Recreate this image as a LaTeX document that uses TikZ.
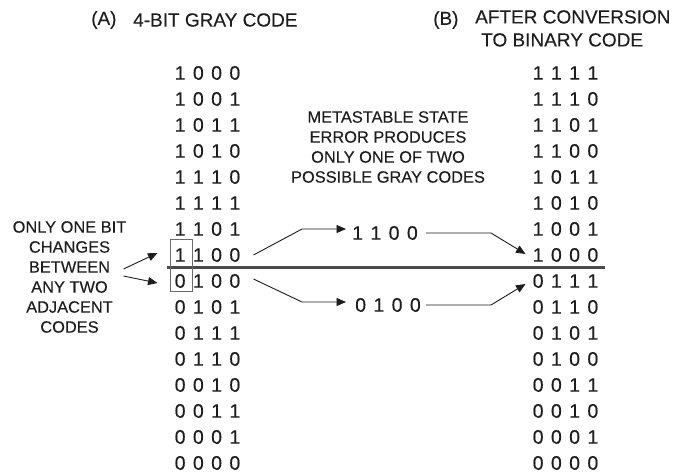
\documentclass[tikz,border=0pt]{standalone}
\usepackage{fontspec}
\setmainfont[FakeBold=0.15]{Liberation Sans}
\usepackage{xcolor}
\usepackage{tikz}
\usetikzlibrary{arrows.meta,calc,positioning}
\definecolor{gcInk}{HTML}{1E1C1D}
\definecolor{gcRule}{HTML}{4A4A4A}
\definecolor{gcFrame}{HTML}{6B6B6B}
\newcommand{\gcword}[1]{\begingroup\spaceskip=7.4pt\relax #1\endgroup}
\tikzset{
  gc diagram/.style={x=1pt, y=-1pt, text=gcInk, line join=miter},
  gc title/.style={font=\fontsize{19}{23}\selectfont, inner sep=0pt},
  gc bits/.style={font=\fontsize{19.5}{22}\selectfont, inner sep=0pt},
  gc note/.style={font=\fontsize{16.4}{20}\selectfont, align=center,
    inner sep=0pt},
  gc arrow/.style={-{Triangle[length=9.5pt,width=8pt]}, draw=gcInk,
    line width=0.9pt},
  gc rule/.style={draw=gcRule, line width=3pt},
  gc frame/.style={draw=gcFrame, line width=1pt}
}

\begin{document}
\begin{tikzpicture}[gc diagram]
\useasboundingbox (0,0) rectangle (684,474);
% headings
\node[gc title, anchor=west] (tagA) at (91,20) {(A)};
\node[gc title, anchor=west] (headA) at (133,20) {4-BIT GRAY CODE};
\node[gc title, anchor=west] (tagB) at (433,20) {(B)};
\node[gc title, anchor=north west, align=left] (headB) at (475,10)
  {AFTER CONVERSION\\\hspace{6pt}TO BINARY CODE};
% the two columns
\foreach \a/\b [count=\i] in {1 0 0 0/1 1 1 1, 1 0 0 1/1 1 1 0,
    1 0 1 1/1 1 0 1, 1 0 1 0/1 1 0 0, 1 1 1 0/1 0 1 1, 1 1 1 1/1 0 1 0,
    1 1 0 1/1 0 0 1, 1 1 0 0/1 0 0 0, 0 1 0 0/0 1 1 1, 0 1 0 1/0 1 1 0,
    0 1 1 1/0 1 0 1, 0 1 1 0/0 1 0 0, 0 0 1 0/0 0 1 1, 0 0 1 1/0 0 1 0,
    0 0 0 1/0 0 0 1, 0 0 0 0/0 0 0 0}{
  \node[gc bits] (ga\i) at (207.5,{47+26*\i}) {\gcword{\a}};
  \node[gc bits] (gb\i) at (565.5,{47+26*\i}) {\gcword{\b}};
}
\draw[gc rule] (167,267) -- (605,267);
\draw[gc frame] (170,239) rectangle (192,291);
% notes
\node[gc note] (meta) at (388,147)
  {METASTABLE STATE\\ERROR PRODUCES\\ONLY ONE OF TWO\\POSSIBLE GRAY CODES};
\node[gc note] (note) at (69.5,277)
  {ONLY ONE BIT\\CHANGES\\BETWEEN\\ANY TWO\\ADJACENT\\CODES};
\node[gc bits] (midA) at (385,233) {\gcword{1 1 0 0}};
\node[gc bits] (midB) at (388,305) {\gcword{0 1 0 0}};
% arrows
\draw[gc arrow] ($(note.east)+(-3,-8)$) -- ($(ga8.west)+(-17,-2)$);
\draw[gc arrow] ($(note.east)+(-3,-1)$) -- ($(ga9.west)+(-17,2)$);
\draw[gc arrow] ($(ga8.east)+(13,0)$) -- ($(midA.west)+(-50,-4)$)
  -- ($(midA.west)+(-6,-4)$);
\draw[gc arrow] ($(ga9.east)+(13,-2)$) -- ($(midB.west)+(-53,-3)$)
  -- ($(midB.west)+(-9,-3)$);
\draw[gc arrow] ($(midA.east)+(8,0)$) -- ($(midA.east)+(73,0)$)
  -- ($(gb8.west)+(-7,-1)$);
\draw[gc arrow] ($(midB.east)+(5,0)$) -- ($(midB.east)+(70,0)$)
  -- ($(gb9.west)+(-7,3)$);
\end{tikzpicture}
\end{document}
